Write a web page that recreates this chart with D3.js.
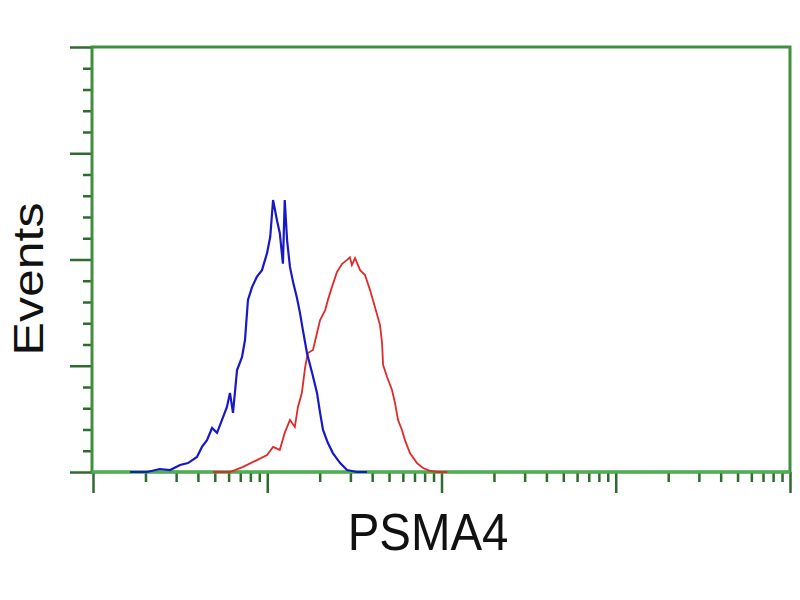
<!DOCTYPE html>
<html>
<head>
<meta charset="utf-8">
<script src="https://cdn.jsdelivr.net/npm/d3@7"></script>
<style>
  body { margin: 0; background: #fff; }
  svg { display: block; }
  text { font-family: "Liberation Sans", Arial, sans-serif; fill: #111; }
</style>
</head>
<body>
<svg id="chart" width="800" height="600"></svg>
<script>
// isotype control (blue) - intensity / events
const blueX = [1.63, 2.04, 2.42, 2.77, 3.16, 3.51, 3.95, 4.22, 4.51, 4.82, 5.15, 5.50, 5.87, 6.11, 6.36, 6.71, 7.16, 7.45, 7.75, 8.18, 8.73, 9.33, 9.97, 10.4, 10.8, 11.4, 11.8, 12.3, 12.6, 13.0, 13.5, 14.1, 14.8, 15.4, 16.0, 16.9, 18.1, 19.3, 20.1, 20.9, 22.3, 23.8, 26.2, 28.7, 32.7, 37.4]
const blueY = [0, 0, 1.4, 0.9, 3.3, 4.2, 7.1, 11.8, 15, 20.7, 18.4, 24.5, 30.6, 37.2, 27.8, 48, 54, 62, 81, 87, 92, 95, 103, 110.6, 128, 118, 112.5, 98, 128, 109, 96.5, 89, 82, 75, 67, 56, 46.6, 37.2, 27.8, 19.8, 13.6, 8.9, 4.2, 0.9, 0, 0]

// PSMA4 stained (red)
const redX = [4.88, 6.11, 7.26, 8.73, 9.97, 10.8, 11.8, 12.6, 13.5, 14.4, 15.0, 15.8, 16.5, 17.1, 18.3, 19.3, 20.1, 21.5, 22.3, 23.5, 25.1, 26.9, 28.7, 29.8, 30.6, 31.9, 34.1, 36.4, 38.9, 41.5, 44.4, 45.6, 46.2, 48.7, 52.0, 54.1, 56.3, 59.3, 61.7, 65.9, 72.3, 78.3, 85.9, 94.2, 108]
const redY = [0, 0, 2.4, 5.6, 8, 11.8, 10.4, 18.4, 24.5, 21.2, 30.6, 37.2, 49.4, 56, 57.4, 65.4, 71.5, 76.2, 81, 87, 94, 98, 99.8, 101, 97.4, 100.7, 95, 92.7, 85.6, 77.6, 69, 60.7, 50.4, 44.7, 38.6, 32.5, 24.5, 19.8, 15, 8.9, 4.2, 1.9, 0.5, 0, 0]

const xMajor = [1, 10, 100, 1000, 10000]
const yMajor = [0, 50, 100, 150, 200]

const svg = d3.select('#chart')
const plotL = 92, plotR = 790, plotT = 47, plotB = 472

const x = d3.scaleLog().domain([1, 10000]).range([plotL + 1, plotR])
const y = d3.scaleLinear().domain([0, 200]).range([plotB, plotT])

let xMinor = []
for (let d = 1; d < 10000; d *= 10) {
  for (let k = 2; k < 10; k++) xMinor.push(d * k)
}
let yMinor = d3.range(0, 201, 10).filter(v => yMajor.indexOf(v) < 0)

const tickColor = '#2f6a2f'

// minor ticks first
svg.append('g')
  .attr('transform', `translate(${plotL},0)`)
  .call(d3.axisLeft(y).tickValues(yMinor).tickSize(9).tickFormat(''))
  .call(g => g.select('.domain').remove())
  .selectAll('line').attr('stroke', tickColor).attr('stroke-width', 2.5)

svg.append('g')
  .attr('transform', `translate(${plotL},0)`)
  .call(d3.axisLeft(y).tickValues(yMajor).tickSize(22).tickFormat(''))
  .call(g => g.select('.domain').remove())
  .selectAll('line').attr('stroke', tickColor).attr('stroke-width', 2.5)

svg.append('g')
  .attr('transform', `translate(0,${plotB})`)
  .call(d3.axisBottom(x).tickValues(xMinor).tickSize(10).tickFormat(''))
  .call(g => g.select('.domain').remove())
  .selectAll('line').attr('stroke', tickColor).attr('stroke-width', 2.5)

svg.append('g')
  .attr('transform', `translate(0,${plotB})`)
  .call(d3.axisBottom(x).tickValues(xMajor).tickSize(21).tickFormat(''))
  .call(g => g.select('.domain').remove())
  .selectAll('line').attr('stroke', tickColor).attr('stroke-width', 2.5)

// frame
svg.append('rect')
  .attr('x', plotL).attr('y', plotT)
  .attr('width', plotR - plotL).attr('height', plotB - plotT)
  .attr('fill', 'none')
  .attr('stroke', '#3f8f3f')
  .attr('stroke-width', 3)

svg.append('line')
  .attr('x1', plotL).attr('x2', plotR)
  .attr('y1', plotB).attr('y2', plotB)
  .attr('stroke', '#4caf50').attr('stroke-width', 3)

let line = d3.line()
  .x(d => x(d[0]))
  .y(d => y(d[1]))

svg.append('path')
  .datum(d3.zip(redX, redY))
  .attr('d', line)
  .attr('fill', 'none')
  .attr('stroke', '#e02a2a')
  .attr('stroke-width', 1.8)

svg.append('path')
  .datum(d3.zip(blueX, blueY))
  .attr('d', line)
  .attr('fill', 'none')
  .attr('stroke', '#1818c8')
  .attr('stroke-width', 2.2)

// labels
svg.append('text')
  .attr('transform', 'translate(43,279) rotate(-90) scale(1,0.85)')
  .attr('text-anchor', 'middle')
  .style('font-size', '50px')
  .text('Events')

svg.append('text')
  .attr('transform', 'translate(428,550) scale(0.93,1)')
  .attr('text-anchor', 'middle')
  .style('font-size', '51px')
  .text('PSMA4')
</script>
</body>
</html>
